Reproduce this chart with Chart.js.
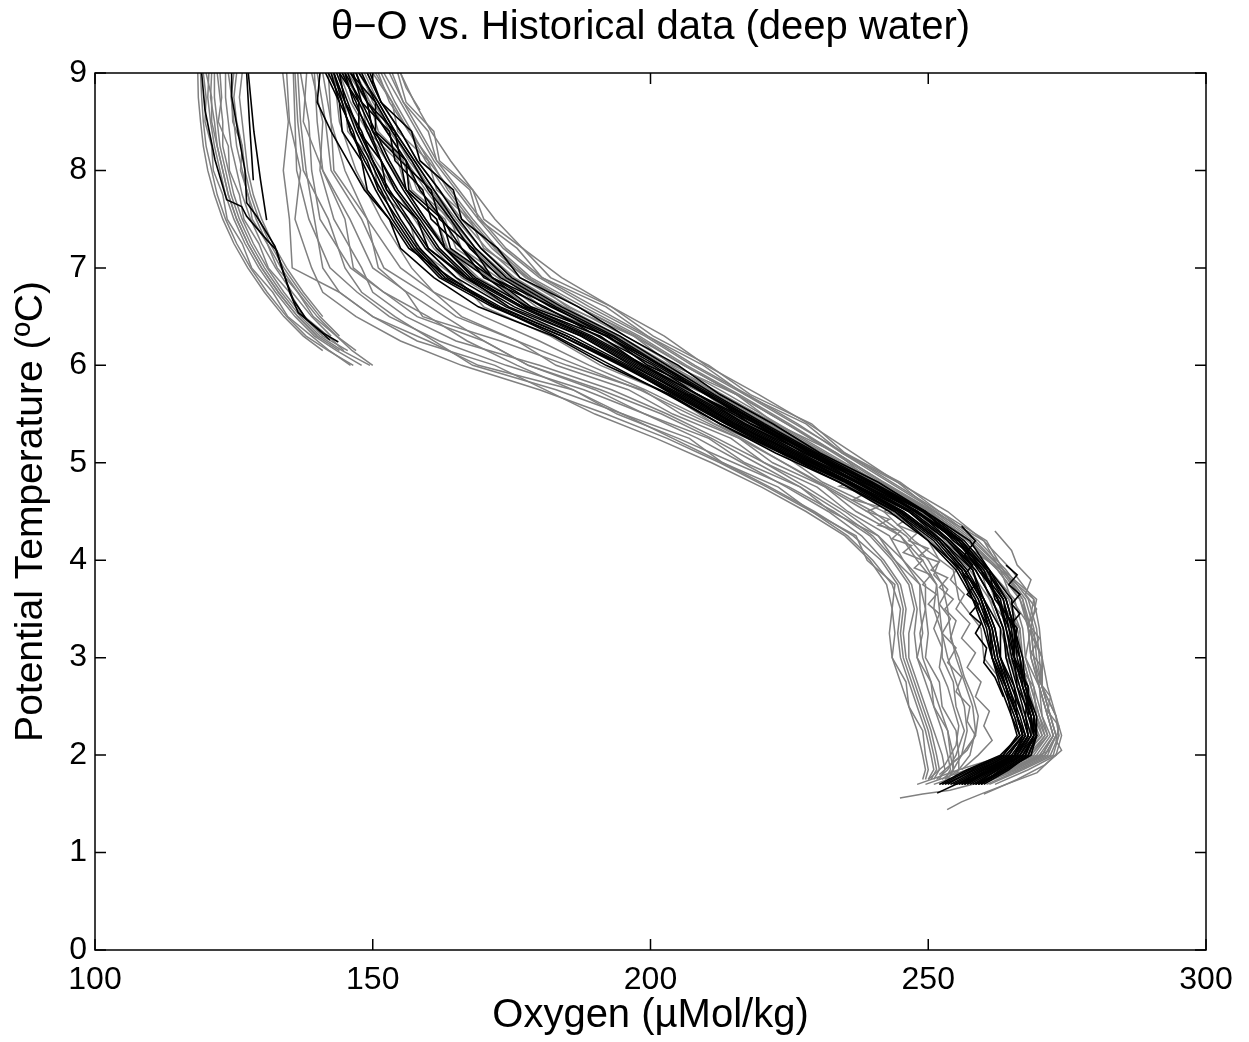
<!DOCTYPE html>
<html>
<head>
<meta charset="utf-8">
<script src="https://cdn.jsdelivr.net/npm/chart.js@4.4.1/dist/chart.umd.min.js"></script>
<style>
  body { margin: 0; background: #fff; }
  canvas { display: block; }
</style>
</head>
<body>
<canvas id="chart" width="1249" height="1042"></canvas>
<script>
// axis ticks
const xTicks = [100, 150, 200, 250, 300];
const yTicks = [0, 1, 2, 3, 4, 5, 6, 7, 8, 9];

// theta levels shared by the main band profiles
const bandTheta = [9.0, 8.7, 8.4, 8.1, 7.8, 7.5, 7.2, 6.9, 6.6, 6.3, 6.0, 5.7, 5.4, 5.1, 4.8, 4.5, 4.2, 3.9, 3.6, 3.3, 3.0, 2.7, 2.4, 2.2, 2.0, 1.85, 1.7];

// new casts (black), oxygen at bandTheta
const bandBlack = [
  [141.5, 144, 144.5, 148, 149, 153, 155, 161, 169, 182.5, 192, 203.5, 212.5, 223.5, 234, 244, 250, 256, 258, 261, 261.5, 264, 265, 266.5, 263, 257, 252],
  [143, 144.5, 146, 149, 151, 154.5, 158, 163, 172, 184, 194.5, 204.5, 214, 224, 235.5, 245, 252, 256.5, 259.5, 261.5, 262.5, 264.5, 266, 267, 264.5, 259, 254],
  [144, 147.5, 147.5, 151.5, 152.5, 158, 160, 167, 174.5, 187.5, 196.5, 206.5, 215, 226, 236, 246.5, 252.5, 258, 260, 263, 263, 265.5, 266, 267.5, 265, 260, 255.5],
  [145.5, 147.5, 150, 152.5, 155.5, 159, 163, 168, 177, 189, 198.5, 207.5, 217, 227, 237.5, 247, 254, 258.5, 261.5, 263.5, 264.5, 266, 267.5, 268, 266, 261.5, 257],
  [146.5, 148, 153, 154, 159, 160.5, 166, 170, 181, 190.5, 200.5, 208.5, 219, 227.5, 239, 247.5, 255.5, 259, 263, 264, 265.5, 266, 268.5, 268.5, 266.5, 262.5, 258],
  [147.5, 151, 154, 157.5, 161, 164.5, 168.5, 174, 183, 193.5, 202, 211, 220, 229.5, 239.5, 249, 256, 260.5, 263.5, 265, 265.5, 267, 268.5, 269, 267.5, 263.5, 259],
  [149, 151.5, 157, 158.5, 164.5, 166, 172.5, 176.5, 187, 195.5, 205, 212.5, 222, 230.5, 241, 249.5, 257.5, 261, 265, 265.5, 267, 267.5, 269.5, 269.5, 268, 264.5, 260],
  [140.5, 140, 142.5, 145.5, 148.5, 153, 156.5, 164, 172, 183, 193, 203, 212.5, 222.5, 234, 243, 250, 255, 258, 260, 261.5, 263, 265, 266, 263.5, 257.5, 252.5],
  [144.5, 147, 149, 151.5, 154, 158, 161.5, 167, 176.5, 188, 197.5, 206.5, 216, 226, 237, 246.5, 253.5, 258, 259.5, 261, 262, 264, 266, 267, 265.5, 260.5, 256],
  [146, 149, 150, 155, 156, 161.5, 163, 170.5, 177.5, 191, 198.5, 208.5, 217, 228, 237.5, 248, 254, 259.5, 262.5, 265.5, 265.5, 268, 268, 269.5, 267, 262, 257.5],
  [143.5, 145.5, 147.5, 150, 152.5, 156, 159.5, 165, 174, 186, 196, 205.5, 215, 225, 236, 245.5, 252.5, 257, 260, 262, 263, 264.5, 266.5, 267.5, 265.5, 261, 256.5],
  [145, 148, 150.5, 153, 156, 159.5, 163, 168.5, 178, 189.5, 199, 208.5, 218, 228, 238.5, 248, 255, 259.5, 262.5, 264.5, 265.5, 267, 268.5, 269, 266.5, 262.5, 258.5],
  [147, 149, 154, 155, 160.5, 162, 168, 171.5, 182.5, 192, 202, 210, 220, 228.5, 239.5, 248, 256, 259.5, 263.5, 264.5, 266.5, 267, 269, 269, 267, 263, 259.5],
  [142.5, 144, 146.5, 148, 150.5, 153.5, 157, 162, 171.5, 184, 195, 204.5, 214, 224, 235.5, 244.5, 251.5, 256, 259, 261, 262, 264, 266, 267, 264.5, 259.5, 254.5],
  [143, 145, 148, 150, 153, 156.5, 160, 166.5, 175.5, 187.5, 197, 206, 215.5, 225.5, 236, 245, 252, 256.5, 259.5, 261.5, 262.5, 264, 266, 267, 264, 258.5, 253],
  [146, 150.5, 150.5, 156, 156.5, 162.5, 164, 171.5, 178.5, 192.5, 199.5, 210.5, 218, 229.5, 238, 249.5, 254.5, 261, 262, 266, 265, 268, 267.5, 268.5, 266, 261, 256],
  [148, 150.5, 153.5, 157, 160, 164, 167.5, 173, 182, 193, 201.5, 210.5, 219.5, 229, 239.5, 249, 256, 260.5, 264, 265.5, 266.5, 267.5, 269, 269.5, 268, 264, 259],
  [144, 145, 147, 149.5, 152, 155, 158.5, 163.5, 173, 185, 195.5, 205, 214.5, 224.5, 235.5, 245, 252, 256.5, 260, 262, 263, 265, 267, 268, 265.5, 260, 255],
  [145, 146.5, 149.5, 151.5, 154.5, 158.5, 162, 167.5, 177, 188.5, 198, 207, 216.5, 226.5, 237, 246.5, 253.5, 258.5, 261.5, 263.5, 264, 265.5, 267, 268, 266, 261.5, 256.5],
  [147, 149, 152.5, 156, 158.5, 162.5, 166, 171.5, 180.5, 192, 201, 210, 219, 228.5, 238.5, 248, 255.5, 260, 262.5, 264, 265, 266.5, 268, 269, 267.5, 263.5, 258.5],
  [142, 144.5, 146, 148.5, 151.5, 154, 157.5, 162.5, 172.5, 185, 195, 204, 213.5, 223.5, 235, 244, 251, 255.5, 258.5, 260.5, 261.5, 263.5, 265.5, 266.5, 263.5, 258, 253.5],
  [149.5, 151.5, 155, 158, 162, 165.5, 169.5, 175, 184, 194.5, 203, 211.5, 220.5, 230, 240, 249.5, 256.5, 261, 264, 265.5, 266, 267.5, 269, 269.5, 268.5, 264, 259.5]
];

// historical casts in the main band (gray), oxygen at bandTheta
const bandGray = [
  [154.5, 156, 161, 162, 168, 170, 177, 182, 193, 200.5, 210.5, 218, 229, 235, 245, 252, 260.5, 263.5, 269.5, 268.5, 270.5, 270.5, 273, 273.5, 272.5, 267, 261],
  [153, 155.5, 158.5, 161.5, 165.5, 169.5, 174, 180.5, 190, 199.5, 208, 217.5, 226.5, 234.5, 243, 251.5, 258.5, 263.5, 267.5, 269, 269.5, 270.5, 272, 273, 271.5, 266, 259.5],
  [151.5, 154, 157, 160, 164, 168, 172.5, 178.5, 188, 198, 206.5, 216, 225, 233.5, 242, 250.5, 257.5, 263, 267, 268, 268.5, 270, 271.5, 272.5, 270.5, 264.5, 258],
  [150, 153.5, 154.5, 160, 161.5, 167.5, 170, 178, 185, 197, 204, 215.5, 222.5, 233.5, 240, 250.5, 255.5, 263, 265, 268.5, 267.5, 270, 270.5, 272, 269.5, 263, 257],
  [148.5, 151, 154, 157.5, 161, 165, 169.5, 175.5, 184.5, 194.5, 203.5, 213, 222.5, 231.5, 240.5, 249, 256, 261, 265.5, 267, 267.5, 269, 270.5, 271.5, 268.5, 262, 255.5],
  [147, 149.5, 152.5, 156, 159.5, 163.5, 168, 173.5, 182.5, 193, 202, 211.5, 221, 230.5, 239.5, 248, 255, 260, 264.5, 266, 267, 268.5, 270, 271, 268, 261, 254],
  [145.5, 149, 150, 155.5, 157, 163, 165, 172.5, 179.5, 192, 199.5, 211, 218.5, 230, 237.5, 248, 253, 260, 262, 265.5, 264.5, 268, 269, 270.5, 267, 260, 252.5],
  [144, 146, 149, 152.5, 156, 159.5, 163.5, 169, 178, 188.5, 198.5, 208, 217.5, 227, 236.5, 245.5, 252.5, 257.5, 261, 263, 264.5, 266.5, 268.5, 269.5, 266, 258.5, 251],
  [143, 145, 147.5, 150.5, 154, 157.5, 161, 166, 174.5, 185, 195.5, 205.5, 215, 225, 234.5, 243.5, 250.5, 255.5, 259, 261, 263, 265, 267.5, 268.5, 265, 257, 249.5],
  [142.5, 145, 145.5, 150, 151, 156.5, 158, 165, 170, 182, 191, 203.5, 211.5, 223.5, 231, 242, 247.5, 254.5, 255.5, 259.5, 260, 264, 265.5, 267.5, 264, 255.5, 248],
  [152, 155, 158, 161, 165, 169, 173.5, 180, 189, 199, 207.5, 217, 226, 235, 243.5, 252, 259, 264, 268, 269.5, 270, 270.5, 272, 273, 271, 265.5, 259],
  [149, 151.5, 155, 158, 162, 166, 170.5, 176.5, 185.5, 195.5, 204.5, 214, 223, 232, 241, 250, 257, 262.5, 266.5, 268.5, 269, 270, 271.5, 272.5, 270, 264, 258.5],
  [146, 149.5, 151, 156, 158, 164, 166, 173.5, 180.5, 193, 200, 211.5, 219, 230.5, 237.5, 248.5, 253.5, 260.5, 262.5, 266.5, 265.5, 269, 269.5, 271, 268.5, 262.5, 256.5],
  [148, 150, 153.5, 156.5, 160.5, 164.5, 168.5, 174.5, 183.5, 194, 203, 212.5, 222, 231, 240, 248.5, 255.5, 260.5, 264, 265.5, 266.5, 268, 269.5, 270.5, 267.5, 261.5, 255],
  [150.5, 153.5, 156.5, 160.5, 163.5, 167.5, 172, 178, 187, 197, 206, 215.5, 224.5, 233, 241.5, 250.5, 257.5, 262.5, 266.5, 268, 268.5, 270, 271.5, 272.5, 270.5, 264.5, 258],
  [153.5, 155.5, 160, 161.5, 167.5, 169, 176, 180.5, 192, 199.5, 209.5, 217, 228, 234.5, 244.5, 251, 260, 263, 269, 268, 270.5, 270.5, 273, 273.5, 272, 266.5, 260.5],
  [151, 153, 156.5, 159.5, 163, 167, 171.5, 177.5, 187, 197.5, 206, 215.5, 224.5, 233.5, 242, 251, 258, 263.5, 267, 268.5, 269, 270.5, 272, 273, 271, 265, 259.5],
  [147.5, 150.5, 153, 157, 160.5, 164, 168.5, 174, 183, 193.5, 202.5, 212, 221.5, 231, 240, 248.5, 255.5, 260.5, 264.5, 266.5, 267, 268.5, 270, 271.5, 269, 262.5, 256],
  [144.5, 148, 149, 154.5, 156, 161.5, 163.5, 171, 178, 190.5, 198.5, 210, 217.5, 229, 236.5, 247.5, 252.5, 259.5, 261, 265, 264, 267.5, 268.5, 270, 266.5, 259.5, 252],
  [155, 157.5, 160.5, 164, 168, 172, 177, 184, 193, 202.5, 210, 219.5, 228.5, 236.5, 244.5, 253.5, 260, 265, 269, 270, 270.5, 271.5, 273, 274, 273, 268, 262]
];

// theta levels for the low-oxygen cluster on the left
const leftTheta = [9.0, 8.75, 8.5, 8.25, 8.0, 7.75, 7.5, 7.25, 7.0, 6.75, 6.5, 6.3, 6.15, 6.0];

const leftGray = [
  [118.5, 118.6, 119, 119.5, 120.3, 121.5, 123, 125, 127.5, 130.5, 134, 137.5, 141],
  [119.5, 120, 119.8, 121, 121.3, 123, 123.8, 126.5, 128.2, 132, 134.7, 139, 142.2, 146],
  [120.5, 120.3, 120.8, 121.5, 122.5, 123.5, 125, 127, 129.5, 132.5, 136, 139.5, 143.5, 148],
  [121.5, 121.5, 122, 122.5, 123.5, 124.5, 126, 128, 130.5, 133.5, 137, 140.5, 144.5, 149.5],
  [122.5, 122.8, 122.2, 124, 124.2, 126, 126.8, 129.5, 131.2, 135, 137.7, 142, 144.8],
  [123.5, 123.5, 124, 124.5, 125.5, 126.5, 128, 130, 132.5, 135.5, 139, 142.5],
  [125, 124.5, 125, 125.5, 126.5, 127.5, 129, 131, 133.5, 136.5, 140, 143.5, 147],
  [126.5, 126, 126.5, 127, 127.5, 128.5, 130, 132, 134.5, 137.5, 141],
  [120, 121, 121, 122, 123, 124, 125.5, 127.5, 130, 133, 136.5, 140, 144],
  [124, 124.6, 124.8, 126.5, 126.2, 127.6, 128.3, 131, 132.8, 136.5, 139.3, 143.5, 146.3, 150],
  [119, 119.2, 119.5, 120, 121, 122, 123.5, 125.5, 128, 131, 134.5, 138, 142, 146.5],
  [121, 120.8, 121.5, 122, 123, 124, 125.5, 127.5, 130, 133, 136.5, 140],
  [122, 122.5, 123, 123, 124, 125, 126.5, 128.5, 131, 134, 137.5, 141, 145.5],
  [125.5, 125, 125.5, 126.5, 127, 128, 129.5, 131.5, 134, 137, 140.5, 144]
];

// black casts in the left cluster, [oxygen, theta]
const leftBlack = [
  [[119.2, 9.0], [119.8, 8.62], [121.6, 8.11], [123.7, 7.70], [126.4, 7.63], [127.3, 7.53], [130.9, 7.29], [132.7, 7.18], [135.1, 6.74], [136.6, 6.54], [141.1, 6.33], [143.8, 6.24]],
  [[124.6, 9.0], [124.6, 8.76], [126.1, 8.28], [127.0, 8.0], [127.3, 7.67], [129.1, 7.53], [132.4, 7.22], [133.9, 6.95], [135.7, 6.67], [138.1, 6.47], [142.3, 6.26]],
  [[127.3, 9.0], [127.8, 8.5], [128.5, 7.9]],
  [[127.6, 9.0], [128.6, 8.4], [129.8, 7.9], [130.9, 7.49]]
];

// theta levels for the scattered casts between the clusters
const midTheta = [9.0, 8.5, 8.0, 7.5, 7.0, 6.75, 6.5, 6.25, 6.0, 5.75, 5.5, 5.25, 5.0, 4.75, 4.5, 4.25, 4.0, 3.75, 3.5, 3.25, 3.0, 2.75, 2.5, 2.25, 2.0, 1.85, 1.75];

const midGray = [
  [133.8, 134.8, 133.9, 135, 135.5, 144, 150, 160, 169, 186, 195, 207, 213, 223, 229, 237, 239, 244, 243.5, 244, 243.5, 246, 246.5, 249, 249.5, 250, 249.5],
  [135.7, 136, 136.3, 138.5, 142.3, 147.2, 153, 162, 174, 188, 199, 208.5, 216.5, 224.5, 232, 238, 242, 245, 246, 245.5, 246, 247.5, 249, 250.5, 251.5, 252, 251],
  [138.1, 137.5, 141, 145.9, 150, 156.2, 163, 170, 178, 191, 202, 211, 219, 227, 234, 240, 244, 247, 248, 247.5, 248, 249.5, 251, 252.5, 253.5, 254, 253],
  [140, 141.5, 142.5, 148, 152, 159, 165, 176, 183, 196, 204, 214.5, 220.5, 230, 235.5, 243, 245.5, 249.5, 249.5, 250, 249.5, 252, 252.5, 255, 255.5, 255.5, 254.5],
  [137, 138.5, 139, 140.5, 146, 152, 160, 167, 176, 186, 194, 205, 215, 225, 233, 239.5, 243.5, 246.5, 247.5, 246.5, 246.5, 248, 249.5, 251, 252.5, 253, 252],
  [139, 141, 140.5, 143, 148, 150, 156, 165, 180, 193, 203, 212, 220.5, 228, 235, 241, 245.5, 248.5, 249.5, 248.5, 249, 250.5, 252, 253.5, 254.5, 254.5, 253.5],
  [142, 142.5, 145, 149, 155, 161, 170, 180, 189, 199, 208, 216.5, 224, 231.5, 239, 245, 249, 251.5, 252, 252.5, 253.5, 255, 256.5, 257, 256, 254.5, 252.5],
  [141, 142.5, 143, 149, 151, 156, 159, 173, 185, 198.5, 205.5, 216, 222, 231.5, 237, 245, 248, 251.5, 251, 252.5, 252.5, 254.5, 255, 256.5, 255, 253.5, 251.5],
  [136.5, 137, 138, 139.5, 141, 144, 150, 158, 172, 181, 190, 201, 211, 220, 228, 235, 239.5, 242.5, 243.5, 243, 243.5, 245, 246.5, 248, 249, 249.5, 249],
  [134.5, 135, 137, 136, 139, 141, 147, 155, 166, 180, 192, 203, 212.5, 221, 229, 235.5, 240, 243.5, 245, 244.5, 245, 246.5, 248, 249.5, 250.5, 251, 250],
  [139.5, 140, 141, 145, 146.5, 152, 158, 170, 178, 190, 199, 210.5, 217, 227, 232.5, 241, 244, 248.5, 248.5, 249, 248, 250.5, 251, 253.5, 254, 254.5, 253.5],
  [143, 144, 147, 151.5, 157, 161, 166, 176, 187, 198, 207, 216, 224, 232, 240, 246, 250, 252.5, 253.5, 254, 255, 256.5, 258, 258.5, 257.5, 255.5, 253],
  [136, 136.5, 137.5, 142, 145, 148, 154, 161, 168, 183, 195, 204, 213, 221.5, 229.5, 236.5, 241.5, 244.5, 245.5, 245, 245.5, 247, 248.5, 250, 251, 251.5, 250.5]
];

// noisy gray casts in the lower part, [oxygen, theta]
const noisyGray = [
  [[230, 5.0], [234, 4.92], [232, 4.88], [236, 4.8], [234, 4.76], [238.5, 4.68], [236.5, 4.62], [241, 4.55], [239, 4.5], [243, 4.42], [241, 4.36], [245, 4.3], [243.5, 4.22], [247, 4.15], [245.5, 4.08], [249, 4.0], [247.5, 3.92], [250.5, 3.85], [249, 3.75], [251.5, 3.65], [250, 3.55], [252, 3.45], [251, 3.3], [252.5, 3.1], [252, 2.9], [253.5, 2.7], [254.5, 2.5], [255.5, 2.3], [255, 2.1], [253, 1.9], [250, 1.75]],
  [[236, 4.9], [239.5, 4.82], [238, 4.78], [241.5, 4.7], [240, 4.64], [244, 4.56], [242, 4.5], [246, 4.42], [244.5, 4.36], [248, 4.28], [246.5, 4.2], [250, 4.12], [248.5, 4.05], [252, 3.98], [250.5, 3.9], [253.5, 3.82], [252, 3.72], [254.5, 3.6], [253, 3.5], [255, 3.38], [254, 3.2], [255.5, 3.0], [256.5, 2.8], [258, 2.6], [259, 2.4], [258.5, 2.2], [256, 2.0], [252, 1.8]],
  [[250, 4.2], [252, 4.0], [251, 3.85], [253.5, 3.7], [252, 3.55], [254, 3.4], [252.5, 3.25], [255, 3.1], [253.5, 2.95], [256, 2.8], [255, 2.65], [257.5, 2.5], [257, 2.35], [258.5, 2.2], [257, 2.05], [254, 1.9]],
  [[253, 4.1], [255.5, 3.95], [254, 3.8], [256.5, 3.65], [255, 3.5], [257.5, 3.35], [256, 3.2], [258.5, 3.05], [257, 2.9], [259.5, 2.75], [258.5, 2.6], [261, 2.45], [260, 2.3], [261.5, 2.15], [259, 2.0], [256, 1.85]],
  [[262, 4.3], [265, 4.1], [266, 3.95], [268.5, 3.8], [267.5, 3.65], [269.5, 3.5], [268, 3.35], [270, 3.2], [268.5, 3.05], [270.5, 2.9], [270, 2.75], [272, 2.6], [271.5, 2.45], [273.5, 2.3], [273, 2.15], [274, 2.05], [271, 1.9], [266, 1.75], [260, 1.6]],
  [[271.9, 2.05], [267, 1.92], [262.9, 1.8], [258, 1.7], [253.9, 1.64], [249, 1.6], [244.9, 1.56]],
  [[273.2, 2.02], [269.6, 1.82], [264, 1.7], [259.9, 1.61], [256, 1.52], [253.4, 1.44]],
  [[155, 9.0], [156, 8.85], [158.5, 8.62]]
];

// wiggly black segments inside the band, [oxygen, theta]
const wigglyBlack = [
  [[256, 4.35], [258.5, 4.2], [256.5, 4.05], [258, 3.95], [256.5, 3.85], [258.5, 3.75], [257, 3.65], [259, 3.55], [257.5, 3.45], [259.5, 3.35], [258.5, 3.25], [260.5, 3.1], [260, 2.95], [262, 2.8], [263.5, 2.6]],
  [[264, 3.95], [266, 3.85], [264.5, 3.75], [266.5, 3.65], [265, 3.55], [266.5, 3.45], [265, 3.35], [266, 3.2]],
  [[268, 2.2], [265, 1.95], [260, 1.8], [255, 1.7], [251.6, 1.61]]
];

const GRAY = "#808080";
const BLACK = "#000000";

const fromLevels = (levels, oxy) => oxy.map((o, i) => ({ x: o, y: levels[i] }));
const fromPairs = (pairs) => pairs.map(([o, t]) => ({ x: o, y: t }));

const makeSet = (data, color, width) => ({
  data: data,
  showLine: true,
  borderColor: color,
  borderWidth: width,
  pointRadius: 0,
  fill: false,
  tension: 0,
});

// first dataset is drawn on top, so black goes first
const datasets = [];
bandBlack.forEach((o) => datasets.push(makeSet(fromLevels(bandTheta, o), BLACK, 1.6)));
wigglyBlack.forEach((p) => datasets.push(makeSet(fromPairs(p), BLACK, 1.6)));
leftBlack.forEach((p) => datasets.push(makeSet(fromPairs(p), BLACK, 1.6)));
bandGray.forEach((o) => datasets.push(makeSet(fromLevels(bandTheta, o), GRAY, 1.5)));
noisyGray.forEach((p) => datasets.push(makeSet(fromPairs(p), GRAY, 1.5)));
midGray.forEach((o) => datasets.push(makeSet(fromLevels(midTheta, o), GRAY, 1.5)));
leftGray.forEach((o) => datasets.push(makeSet(fromLevels(leftTheta, o), GRAY, 1.5)));

const FONT = "'Liberation Sans', Arial, Helvetica, sans-serif";

// box round the plot with inward ticks on all four sides
const frame = {
  id: "frame",
  afterDatasetsDraw(chart) {
    const { ctx, chartArea: a } = chart;
    const x = chart.scales.x;
    const y = chart.scales.y;
    const len = 11;
    ctx.save();
    ctx.strokeStyle = "#000";
    ctx.lineWidth = 1.5;
    ctx.strokeRect(a.left, a.top, a.right - a.left, a.bottom - a.top);
    ctx.beginPath();
    xTicks.forEach((v) => {
      const px = x.getPixelForValue(v);
      ctx.moveTo(px, a.bottom);
      ctx.lineTo(px, a.bottom - len);
      ctx.moveTo(px, a.top);
      ctx.lineTo(px, a.top + len);
    });
    yTicks.forEach((v) => {
      const py = y.getPixelForValue(v);
      ctx.moveTo(a.left, py);
      ctx.lineTo(a.left + len, py);
      ctx.moveTo(a.right, py);
      ctx.lineTo(a.right - len, py);
    });
    ctx.stroke();
    ctx.restore();
  },
};

new Chart(document.getElementById("chart"), {
  type: "scatter",
  data: { datasets: datasets },
  plugins: [frame],
  options: {
    responsive: false,
    animation: false,
    devicePixelRatio: 1,
    layout: { padding: { left: 0, right: 43, top: 0, bottom: 0 } },
    plugins: {
      legend: { display: false },
      tooltip: { enabled: false },
      title: {
        display: true,
        fullSize: false,
        text: "θ−O vs. Historical data (deep water)",
        color: "#000",
        font: { family: FONT, size: 40, weight: "normal" },
        padding: { top: 4, bottom: 21 },
      },
    },
    scales: {
      x: {
        type: "linear",
        min: 100,
        max: 300,
        afterBuildTicks: (s) => { s.ticks = xTicks.map((v) => ({ value: v })); },
        afterFit: (s) => { s.height = 92; },
        grid: { display: false, drawTicks: false, tickLength: 0 },
        border: { display: false },
        ticks: { color: "#000", font: { family: FONT, size: 32 }, padding: 11, maxRotation: 0 },
        title: {
          display: true,
          text: "Oxygen (µMol/kg)",
          color: "#000",
          font: { family: FONT, size: 40 },
          padding: { top: 0, bottom: 2 },
        },
      },
      y: {
        type: "linear",
        min: 0,
        max: 9,
        afterBuildTicks: (s) => { s.ticks = yTicks.map((v) => ({ value: v })); },
        afterFit: (s) => { s.width = 95; },
        grid: { display: false, drawTicks: false, tickLength: 0 },
        border: { display: false },
        ticks: { color: "#000", font: { family: FONT, size: 32 }, padding: 8 },
        title: {
          display: true,
          text: "Potential Temperature (ºC)",
          color: "#000",
          font: { family: FONT, size: 39 },
          padding: { top: 8, bottom: 0 },
        },
      },
    },
  },
});
</script>
</body>
</html>
